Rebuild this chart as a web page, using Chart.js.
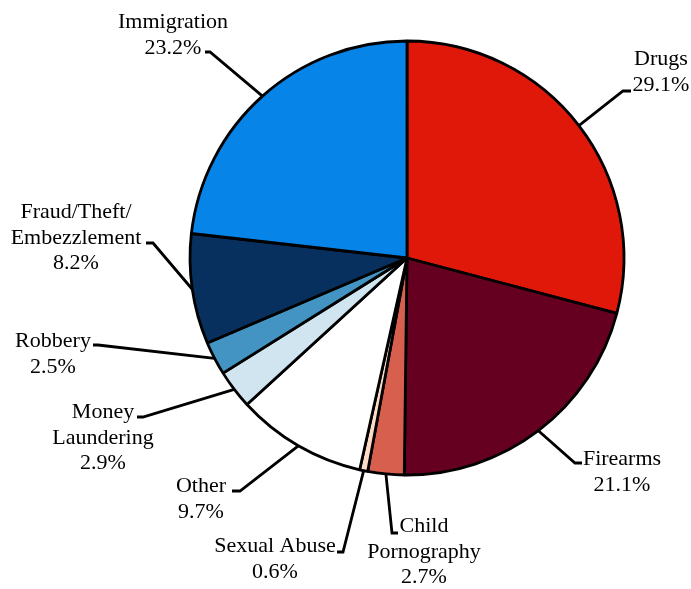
<!DOCTYPE html>
<html>
<head>
<meta charset="utf-8">
<script src="https://cdn.jsdelivr.net/npm/chart.js@4.4.1/dist/chart.umd.min.js"></script>
<style>
  html, body { margin: 0; padding: 0; background: #fff; }
  #wrap { width: 691px; height: 589px; }
</style>
</head>
<body>
<div id="wrap"><canvas id="offenseChart" width="691" height="589"></canvas></div>
<script>
// offense categories, clockwise from 12 o'clock (multi-line labels as arrays)
const categories = [
  ['Drugs'],
  ['Firearms'],
  ['Child', 'Pornography'],
  ['Sexual Abuse'],
  ['Other'],
  ['Money', 'Laundering'],
  ['Robbery'],
  ['Fraud/Theft/', 'Embezzlement'],
  ['Immigration']
];
const shares = [29.1, 21.1, 2.7, 0.6, 9.7, 2.9, 2.5, 8.2, 23.2];
const sliceColors = ['#e0180a', '#660020', '#d6604d', '#fddbc7', '#ffffff',
                     '#d1e5f0', '#4393c3', '#08305e', '#0784e8'];

// where each callout goes: elbow of the leader, end of the small tick, text centre and first baseline
const labelLayout = [
  { elbow: [623, 91],  tick: [631, 91],  cx: 661, base: 65 },
  { elbow: [575, 463], tick: [582, 463], cx: 622, base: 465 },
  { elbow: [392, 533], tick: [398, 533], cx: 424, base: 532 },
  { elbow: [343, 552], tick: [337, 552], cx: 275, base: 552 },
  { elbow: [240, 491], tick: [232, 491], cx: 201, base: 492 },
  { elbow: [143, 417], tick: [137, 417], cx: 103, base: 418 },
  { elbow: [98, 345],  tick: [93, 345],  cx: 53,  base: 347 },
  { elbow: [153, 243], tick: [146, 243], cx: 76,  base: 218 },
  { elbow: [210, 52],  tick: [205, 52],  cx: 173, base: 28 }
];
const lineHeight = 25.5;

const leaderLabels = {
  id: 'leaderLabels',
  afterDatasetsDraw(chart) {
    const ctx = chart.ctx;
    const arcs = chart.getDatasetMeta(0).data;
    ctx.save();
    ctx.strokeStyle = '#000';
    ctx.fillStyle = '#000';
    ctx.lineWidth = 2.8;
    ctx.font = '22px "Liberation Serif", "Times New Roman", serif';
    ctx.textAlign = 'center';
    ctx.textBaseline = 'alphabetic';
    arcs.forEach((arc, i) => {
      const p = arc.getProps(['x', 'y', 'startAngle', 'endAngle', 'outerRadius'], true);
      const mid = (p.startAngle + p.endAngle) / 2;
      const sx = p.x + Math.cos(mid) * p.outerRadius;
      const sy = p.y + Math.sin(mid) * p.outerRadius;
      const L = labelLayout[i];
      ctx.beginPath();
      ctx.moveTo(sx, sy);
      ctx.lineTo(L.elbow[0], L.elbow[1]);
      ctx.lineTo(L.tick[0], L.tick[1]);
      ctx.stroke();
      const lines = categories[i].concat([shares[i].toFixed(1) + '%']);
      lines.forEach((t, k) => ctx.fillText(t, L.cx, L.base + k * lineHeight));
    });
    ctx.restore();
  }
};

const ctx = document.getElementById('offenseChart').getContext('2d');
new Chart(ctx, {
  type: 'pie',
  data: {
    labels: categories,
    datasets: [{
      data: shares,
      backgroundColor: sliceColors,
      borderColor: '#000',
      borderWidth: 2.8
    }]
  },
  options: {
    responsive: false,
    animation: false,
    radius: 217,
    layout: { padding: { left: 123, right: 0, top: 0, bottom: 73 } },
    plugins: {
      legend: { display: false },
      tooltip: { enabled: false }
    }
  },
  plugins: [leaderLabels]
});
</script>
</body>
</html>
